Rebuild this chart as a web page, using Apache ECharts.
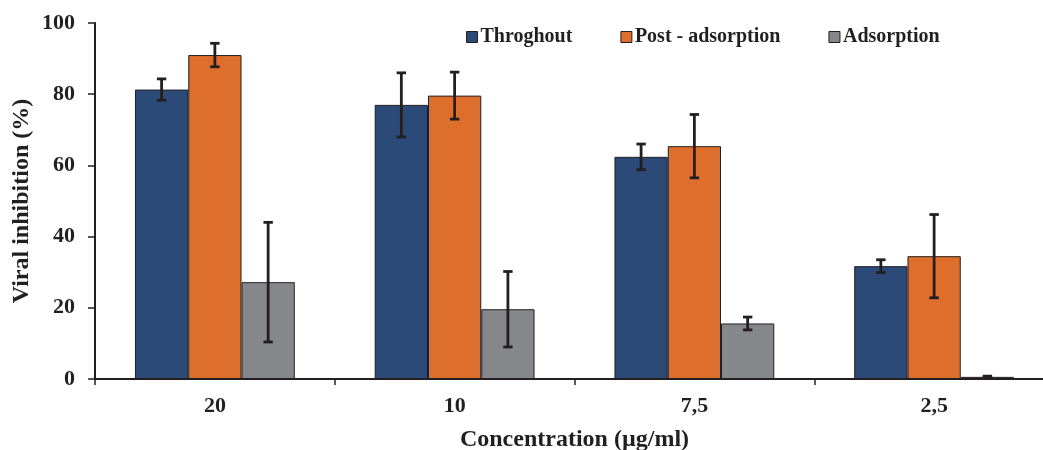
<!DOCTYPE html>
<html>
<head>
<meta charset="utf-8">
<script src="https://cdn.jsdelivr.net/npm/echarts@6/dist/echarts.min.js"></script>
<style>html,body{margin:0;padding:0;background:#fff;}#c{width:1043px;height:450px;}</style>
</head>
<body>
<div id="c"></div>
<script>
var categories = ['20', '10', '7,5', '2,5'];
var seriesNames = ['Throghout', 'Post - adsorption', 'Adsorption'];
var throughout = [81.3, 77.0, 62.4, 31.7];
var throughoutErr = [3.0, 9.0, 3.6, 1.8];
var postAdsorption = [91.0, 79.6, 65.4, 34.5];
var postAdsorptionErr = [3.3, 6.6, 8.9, 11.7];
var adsorption = [27.2, 19.6, 15.6, 0.6];
var adsorptionErr = [16.8, 10.6, 1.8, 0.2];
var yTicks = [0, 20, 40, 60, 80, 100];

var colors = ['#2B4A78', '#DE6E2B', '#86878B'];
var ink = '#231F20';
var font = '"Liberation Serif", "Times New Roman", serif';

var values = [throughout, postAdsorption, adsorption];
var errs = [throughoutErr, postAdsorptionErr, adsorptionErr];

var series = [];
values.forEach(function (vals, s) {
  series.push({
    name: seriesNames[s],
    type: 'bar',
    data: vals,
    barGap: '0%',
    barCategoryGap: '33.33%',
    itemStyle: { color: colors[s], borderColor: ink, borderWidth: 1 },
    z: 2
  });
});
values.forEach(function (vals, s) {
  var d = vals.map(function (v, i) { return [i, v - errs[s][i], v + errs[s][i]]; });
  series.push({
    type: 'custom',
    name: 'err' + s,
    z: 5,
    silent: true,
    encode: { x: 0, y: [1, 2] },
    data: d,
    renderItem: function (params, api) {
      var i = api.value(0);
      var lo = api.coord([i, api.value(1)]);
      var hi = api.coord([i, api.value(2)]);
      var bw = api.size([1, 0])[0] * 2 / 9;
      var x = lo[0] + (s - 1) * bw;
      var cap = 4.7;
      var st = { stroke: ink, lineWidth: 2.8 };
      return {
        type: 'group',
        children: [
          { type: 'line', shape: { x1: x, y1: lo[1], x2: x, y2: hi[1] }, style: st },
          { type: 'line', shape: { x1: x - cap, y1: lo[1], x2: x + cap, y2: lo[1] }, style: st },
          { type: 'line', shape: { x1: x - cap, y1: hi[1], x2: x + cap, y2: hi[1] }, style: st }
        ]
      };
    }
  });
});

var chart = echarts.init(document.getElementById('c'), null, { renderer: 'canvas' });
chart.setOption({
  animation: false,
  backgroundColor: '#fff',
  textStyle: { fontFamily: font },
  legend: {
    data: seriesNames,
    left: 461,
    top: 22,
    itemWidth: 11,
    itemHeight: 11,
    itemGap: 48,
    icon: 'rect',
    itemStyle: { borderColor: ink, borderWidth: 1 },
    textStyle: { fontFamily: font, fontWeight: 'bold', fontSize: 20, color: ink, padding: [0, 0, 0, -2] }
  },
  grid: { left: 95, top: 23, width: 959, height: 356, containLabel: false, outerBoundsMode: 'none' },
  xAxis: {
    type: 'category',
    data: categories,
    boundaryGap: true,
    name: 'Concentration (µg/ml)',
    nameLocation: 'middle',
    nameGap: 49,
    nameMoveOverlap: false,
    nameTextStyle: { fontFamily: font, fontWeight: 'bold', fontSize: 24, color: ink },
    axisLine: { lineStyle: { color: ink, width: 2 } },
    axisTick: { show: true, length: 6, alignWithLabel: false, lineStyle: { color: ink, width: 1.5 } },
    axisLabel: { margin: 16, fontFamily: font, fontWeight: 'bold', fontSize: 22, color: ink },
    splitLine: { show: false }
  },
  yAxis: {
    type: 'value',
    min: yTicks[0],
    max: yTicks[yTicks.length - 1],
    interval: 20,
    name: 'Viral inhibition (%)',
    nameLocation: 'middle',
    nameGap: 61,
    nameMoveOverlap: false,
    nameTextStyle: { fontFamily: font, fontWeight: 'bold', fontSize: 24, color: ink },
    axisLine: { show: true, lineStyle: { color: ink, width: 2 } },
    axisTick: { show: true, length: 7, lineStyle: { color: ink, width: 1.5 } },
    axisLabel: { margin: 20, fontFamily: font, fontWeight: 'bold', fontSize: 22, color: ink },
    splitLine: { show: false }
  },
  series: series
});
</script>
</body>
</html>
